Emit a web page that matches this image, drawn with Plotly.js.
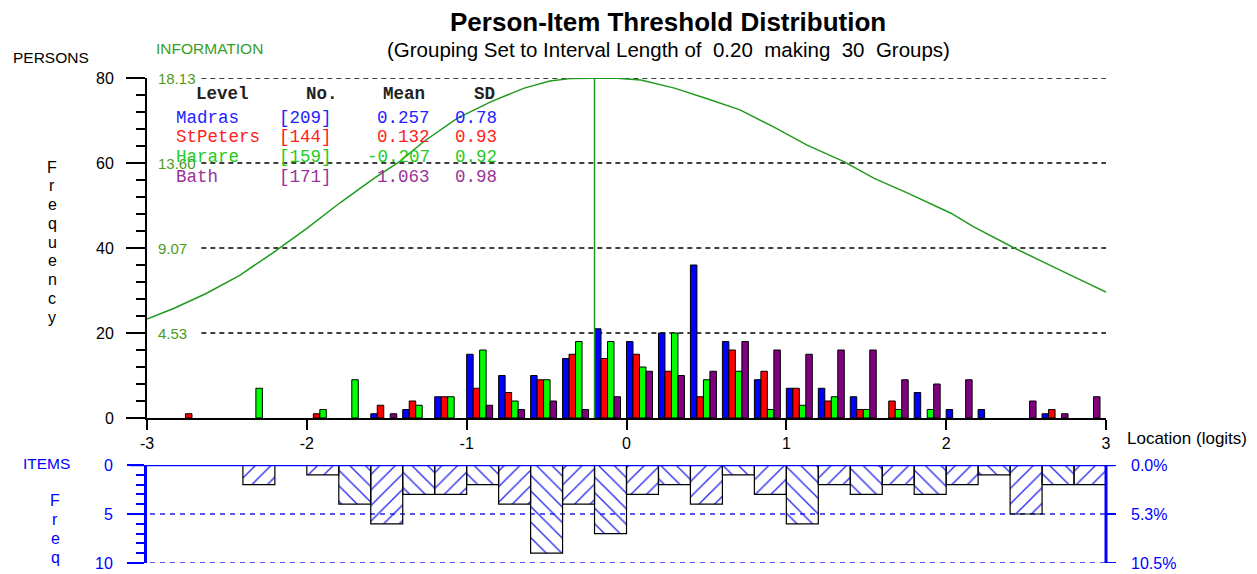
<!DOCTYPE html>
<html>
<head>
<meta charset="utf-8">
<script src="https://cdn.plot.ly/plotly-3.0.1.min.js"></script>
<style>
html,body{margin:0;padding:0;background:#fff;}
#chart{width:1257px;height:574px;}
</style>
</head>
<body>
<div id="chart"></div>
<script>
// ---- DATA ----
const binStarts = [-3.0,-2.8,-2.6,-2.4,-2.2,-2.0,-1.8,-1.6,-1.4,-1.2,-1.0,-0.8,-0.6,-0.4,-0.2,0.0,0.2,0.4,0.6,0.8,1.0,1.2,1.4,1.6,1.8,2.0,2.2,2.4,2.6,2.8];
const madras   = [0,0,0,0,0,0,0,1,2,5,15,10,10,14,21,18,20,36,18,9,7,7,5,0,6,2,2,0,1,0];
const stpeters = [0,1,0,0,0,1,0,3,4,5,7,6,9,15,14,15,11,5,16,11,7,4,2,4,0,0,0,0,2,0];
const harare   = [0,0,0,7,0,2,9,0,3,5,16,4,9,18,18,12,20,9,11,2,3,5,2,2,2,0,0,0,0,0];
const bath     = [0,0,0,0,0,0,0,1,0,0,3,2,4,2,5,11,10,11,18,16,15,16,16,9,8,9,0,4,1,5];
const items    = [0,0,0,2,0,1,4,6,3,3,2,4,9,4,7,3,2,4,1,3,6,2,3,2,3,2,1,5,2,2];

const infoX = [-3.00,-2.83,-2.63,-2.42,-2.21,-2.00,-1.79,-1.58,-1.42,-1.27,-1.06,-0.85,-0.64,-0.48,-0.34,-0.20,-0.08,0.09,0.30,0.50,0.71,0.92,1.13,1.36,1.55,1.76,2.03,2.17,2.42,2.69,3.00];
const infoY = [5.28,5.85,6.64,7.61,8.82,10.11,11.49,12.78,13.67,14.73,15.98,16.86,17.59,17.97,18.11,18.13,18.13,18.02,17.59,17.04,16.43,15.52,14.55,13.67,12.78,11.99,10.92,10.20,9.09,7.98,6.71];
const infoPeak = -0.20;
const infoMax = 18.13;
const infoTickLabels = ['4.53','9.07','13.60','18.13'];
const freqGrid = [20,40,60,80];

const xTickVals = [-3,-2,-1,0,1,2,3];
const xTickText = ['-3','-2','-1','0','1','2','3'];
const itemTickVals = [0,5,10];
const itemPctText = ['0.0%','5.3%','10.5%'];

const groupNames = ['Madras','StPeters','Harare','Bath'];
const groupN = ['[209]','[144]','[159]','[171]'];
const groupMean = ['0.257','0.132','-0.207','1.063'];
const groupSD = ['0.78','0.93','0.92','0.98'];

// ---- LAYOUT HELPERS ----
const Lp = 147, Rp = 1106, Tp = 78, Bp = 563;
const px = x => (x - Lp) / (Rp - Lp);
const py = y => (Bp - y) / (Bp - Tp);
const FONT = 'Liberation Sans, Arial, sans-serif';
const MONO = 'Liberation Mono, Courier New, monospace';
const BLUE = '#0000ff';

const barColors = ['#0000ff','#ff0000','#00ff00','#800080'];
const textColors = ['#2222ff','#ff2020','#22cc22','#993399'];
const series = [madras, stpeters, harare, bath];
const binW = 0.2;
const barW = binW * 6.5 / 32;

const traces = [];
series.forEach((s, i) => {
  traces.push({
    type: 'bar', x: binStarts, y: s.map(v => (v === 0 ? null : v)), name: groupNames[i],
    width: barW, offset: barW * i,
    marker: {color: barColors[i], line: {color: '#000', width: 1}},
    xaxis: 'x', yaxis: 'y', showlegend: false
  });
});
traces.push({
  type: 'bar', x: binStarts, y: items.map(v => (v === 0 ? null : v)), name: 'Items',
  width: binW, offset: 0,
  marker: {
    color: 'rgba(255,255,255,0)',
    line: {color: '#000', width: 1.2},
    pattern: {shape: binStarts.map((_, i) => (i % 2 ? '/' : '\\')), fgcolor: '#2222ee', bgcolor: 'rgba(255,255,255,0)', size: 11, solidity: 0.12}
  },
  xaxis: 'x', yaxis: 'y2', showlegend: false
});
traces.push({
  type: 'scatter', mode: 'lines', x: infoX, y: infoY,
  line: {color: '#1f9a1f', width: 1.5}, xaxis: 'x', yaxis: 'y3', showlegend: false
});
traces.push({
  type: 'scatter', mode: 'lines', x: [infoPeak, infoPeak], y: [0, infoMax],
  line: {color: '#1f9a1f', width: 1.5}, xaxis: 'x', yaxis: 'y3', showlegend: false
});

const shapes = [];
freqGrid.forEach(v => shapes.push({
  type: 'line', xref: 'x', yref: 'y', x0: -2.66, x1: 3, y0: v, y1: v,
  line: {color: '#000', width: 1.5, dash: '5px,4px'}, layer: 'below'
}));
shapes.push({type: 'line', xref: 'paper', yref: 'y2', x0: px(130), x1: px(1115), y0: 0, y1: 0,
  line: {color: BLUE, width: 2.5}});
[5, 10].forEach(v => shapes.push({
  type: 'line', xref: 'paper', yref: 'y2', x0: px(130), x1: px(1106), y0: v, y1: v,
  line: {color: '#2222ee', width: 1.5, dash: '5px,5px'}, layer: 'below'
}));
// right-hand items axis (percent)
shapes.push({type: 'line', xref: 'paper', yref: 'y2', x0: 1, x1: 1, y0: 0, y1: 10,
  line: {color: BLUE, width: 3}});
itemTickVals.forEach(v => shapes.push({
  type: 'line', xref: 'paper', yref: 'y2', x0: 1, x1: px(1116), y0: v, y1: v,
  line: {color: BLUE, width: 2}
}));

const ann = [];
const A = (text, x, y, opts) => ann.push(Object.assign({
  text, x: px(x), y: py(y), xref: 'paper', yref: 'paper', showarrow: false,
  xanchor: 'left', yanchor: 'middle', font: {family: FONT, size: 14, color: '#000'}
}, opts || {}));

A('<b>Person-Item Threshold Distribution</b>', 668, 22, {xanchor: 'center', font: {family: FONT, size: 26, color: '#000'}});
A('(Grouping Set to Interval Length of  0.20  making  30  Groups)', 668, 49, {xanchor: 'center', font: {family: FONT, size: 20.5, color: '#000'}});
A('INFORMATION', 154, 48, {font: {family: FONT, size: 15.5, color: '#3a9e2a'}});
A('PERSONS', 11, 58, {font: {family: FONT, size: 15.5, color: '#000'}});
'Frequency'.split('').forEach((ch, i) => A(ch, 52, 167 + i * 18.75, {xanchor: 'center', font: {family: FONT, size: 16, color: '#000'}}));
A('ITEMS', 21, 463, {font: {family: FONT, size: 15.5, color: BLUE}});
'Freq'.split('').forEach((ch, i) => A(ch, 55, 500 + i * 19, {xanchor: 'center', font: {family: FONT, size: 16, color: BLUE}}));
A('Location (logits)', 1125, 438, {font: {family: FONT, size: 17, color: '#000'}});

freqGrid.forEach((v, i) => ann.push({
  text: infoTickLabels[i], x: px(156), y: v, xref: 'paper', yref: 'y', showarrow: false,
  xanchor: 'left', yanchor: 'middle', font: {family: FONT, size: 15, color: '#4f9a1c'}
}));
itemTickVals.forEach((v, i) => ann.push({
  text: itemPctText[i], x: px(1129), y: v, xref: 'paper', yref: 'y2', showarrow: false,
  xanchor: 'left', yanchor: 'middle', font: {family: FONT, size: 16, color: BLUE}
}));

// legend table
const monoF = c => ({family: MONO, size: 17.5, color: c});
A('<b>Level</b>', 194, 94, {font: monoF('#222')});
A('<b>No.</b>', 304, 94, {font: monoF('#222')});
A('<b>Mean</b>', 381, 94, {font: monoF('#222')});
A('<b>SD</b>', 472, 94, {font: monoF('#222')});
const rowY = [118, 137, 157, 177];
groupNames.forEach((g, i) => {
  A(g, 174, rowY[i], {font: monoF(textColors[i])});
  A(groupN[i], 277, rowY[i], {font: monoF(textColors[i])});
  A(groupMean[i], 432, rowY[i], {xanchor: 'right', font: monoF(textColors[i])});
  A(groupSD[i], 453, rowY[i], {font: monoF(textColors[i])});
});

const layout = {
  width: 1257, height: 574,
  margin: {l: Lp, r: 1257 - Rp, t: Tp, b: 574 - Bp},
  paper_bgcolor: '#fff', plot_bgcolor: 'rgba(0,0,0,0)',
  barmode: 'overlay', showlegend: false,
  font: {family: FONT, size: 16, color: '#000'},
  xaxis: {
    range: [-3, 3], tickvals: xTickVals, ticktext: xTickText,
    ticks: 'outside', ticklen: 10, tickwidth: 2, tickcolor: '#000',
    showline: true, linewidth: 2, linecolor: '#000',
    showgrid: false, zeroline: false, anchor: 'y',
    tickfont: {family: FONT, size: 16, color: '#000'}
  },
  yaxis: {
    domain: [py(418), 1], range: [0, 80], tickvals: [0, 20, 40, 60, 80],
    ticks: 'outside', ticklen: 19, tickwidth: 2, tickcolor: '#000',
    minor: {dtick: 4, tick0: 0, ticks: 'outside', ticklen: 9, tickwidth: 2, tickcolor: '#000', showgrid: false},
    showline: true, linewidth: 2, linecolor: '#000',
    showgrid: false, zeroline: false, anchor: 'x', ticklabelstandoff: 9,
    tickfont: {family: FONT, size: 16, color: '#000'}
  },
  yaxis2: {
    domain: [0, py(465)], range: [10, 0], tickvals: itemTickVals,
    ticks: 'outside', ticklen: 17, tickwidth: 2, tickcolor: BLUE,
    minor: {dtick: 1, tick0: 0, ticks: 'outside', ticklen: 8, tickwidth: 2, tickcolor: BLUE, showgrid: false},
    showline: true, linewidth: 3, linecolor: BLUE,
    showgrid: false, zeroline: false, anchor: 'x', ticklabelstandoff: 11,
    tickfont: {family: FONT, size: 16, color: BLUE}
  },
  yaxis3: {overlaying: 'y', range: [0, infoMax], visible: false, anchor: 'x'},
  shapes: shapes,
  annotations: ann
};

Plotly.newPlot('chart', traces, layout, {displayModeBar: false, staticPlot: true});
</script>
</body>
</html>
